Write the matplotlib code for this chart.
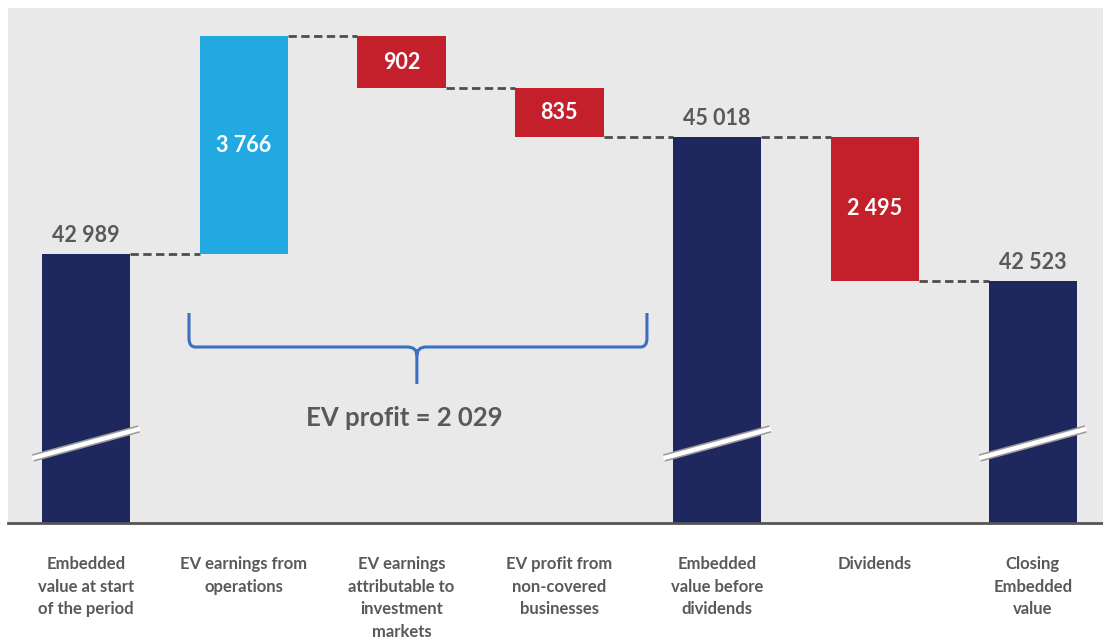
import matplotlib.pyplot as plt
from matplotlib.path import Path
from matplotlib.patches import PathPatch

plt.rcParams['font.family'] = ['Lato', 'DejaVu Sans']

# data
categories = ['Embedded\nvalue at start\nof the period',
              'EV earnings from\noperations',
              'EV earnings\nattributable to\ninvestment\nmarkets',
              'EV profit from\nnon-covered\nbusinesses',
              'Embedded\nvalue before\ndividends',
              'Dividends',
              'Closing\nEmbedded\nvalue']
kinds = ['total', 'delta', 'delta', 'delta', 'total', 'delta', 'total']
values = [42989, 3766, -902, -835, 45018, -2495, 42523]
ev_profit = 2029

navy = '#1f285e'
blue = '#22a9e1'
red = '#c4202b'
grey_txt = '#595959'

y_lo, y_hi = 38335, 47245
bw = 0.56


def fmt(v):
    return f"{abs(v):,}".replace(',', ' ')


fig = plt.figure(figsize=(11.03, 6.42), dpi=100)
ax = fig.add_axes([8 / 1103, 1 - 523 / 642, 1 - 8 / 1103, 515 / 642])
ax.set_facecolor('#e9e9e9')
ax.set_xlim(-0.494, 6.445)
ax.set_ylim(y_lo, y_hi)

running = 0
levels = []
for i, (k, v) in enumerate(zip(kinds, values)):
    if k == 'total':
        ax.bar(i, v - y_lo, bottom=y_lo, width=bw, color=navy, zorder=2)
        ax.text(i, v + 140, fmt(v), ha='center', va='bottom', fontsize=15.5,
                fontweight='bold', color=grey_txt)
        running = v
        # break mark
        ax.plot([i - 0.336, i + 0.336], [39711 - 251, 39711 + 251],
                color='#9a9a9a', lw=5.5, solid_capstyle='butt', zorder=3)
        ax.plot([i - 0.34, i + 0.34], [39711 - 254, 39711 + 254],
                color='white', lw=3.2, solid_capstyle='butt', zorder=4)
    else:
        lo = min(running, running + v)
        ax.bar(i, abs(v), bottom=lo, width=bw, color=blue if v > 0 else red, zorder=2)
        ax.text(i, lo + abs(v) / 2, fmt(v), ha='center', va='center', fontsize=15.5,
                fontweight='bold', color='white')
        running = running + v
    levels.append(running)

# connectors
for i in range(len(values) - 1):
    ax.plot([i + bw / 2, i + 1 - bw / 2], [levels[i], levels[i]], color='#4d4d4d',
            lw=2, ls=(0, (3, 1.6)), zorder=1)

# brace
x0, x1, xm = 0.653, 3.555, 2.097
yt, yh, ytip = 41968, 41380, 40740
rx, ry = 0.04, 150
verts = [(x0, yt), (x0, yh + ry), (x0, yh), (x0 + rx, yh),
         (xm - rx * 1.5, yh), (xm, yh), (xm, yh - ry), (xm, ytip),
         (xm, yh - ry), (xm, yh), (xm + rx * 1.5, yh),
         (x1 - rx, yh), (x1, yh), (x1, yh + ry), (x1, yt)]
codes = [Path.MOVETO, Path.LINETO, Path.CURVE3, Path.CURVE3,
         Path.LINETO, Path.CURVE3, Path.CURVE3, Path.LINETO,
         Path.MOVETO, Path.CURVE3, Path.CURVE3,
         Path.LINETO, Path.CURVE3, Path.CURVE3, Path.LINETO]
ax.add_patch(PathPatch(Path(verts, codes), fill=False, edgecolor='#3b6fc0', lw=2.2, zorder=2))
ax.text(2.02, 40150, f"EV profit = {fmt(ev_profit)}", ha='center', va='center',
        fontsize=18.5, fontweight='bold', color=grey_txt)

for s in ['top', 'right', 'left']:
    ax.spines[s].set_visible(False)
ax.spines['bottom'].set_color('#555555')
ax.spines['bottom'].set_linewidth(2)
ax.set_yticks([])
ax.set_xticks(range(len(categories)))
ax.set_xticklabels(categories, fontsize=12, fontweight='bold', color=grey_txt,
                   linespacing=1.5, va='top')
ax.tick_params(axis='x', length=0, pad=24)

fig.savefig('out.png', dpi=100)
